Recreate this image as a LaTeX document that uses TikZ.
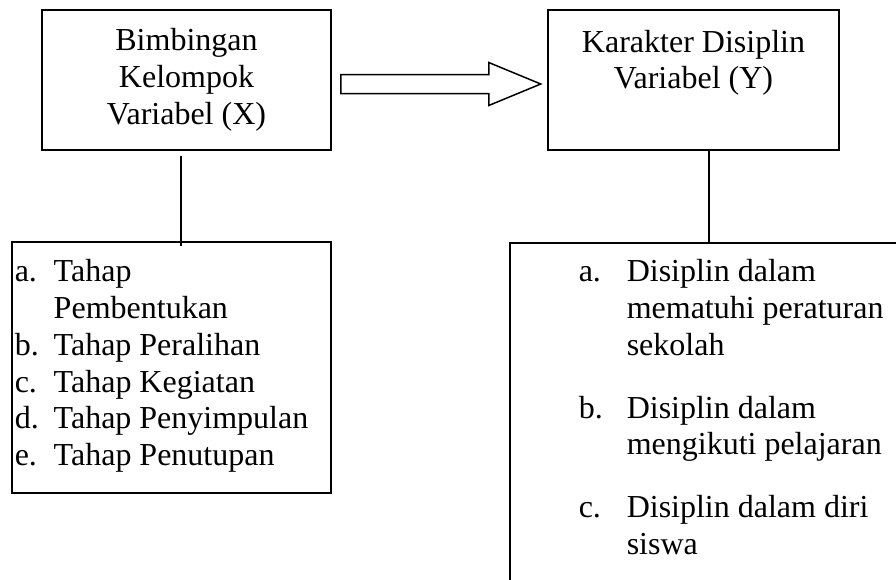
\documentclass[tikz,border=0pt]{standalone}
\usepackage{fontspec}
\setmainfont{Liberation Serif}

\begin{document}
\begin{tikzpicture}[x=1pt,y=-1pt,line width=1.5pt,
  box/.style={draw,inner sep=0pt},
  txt/.style={inner sep=0pt,font=\fontsize{32}{36.7}\selectfont}]
\clip (0,0) rectangle (896,579);
\pgfmathsetmacro{\lblx}{39}
\pgfmathsetmacro{\lbly}{48}
% variable boxes
\node[box,minimum width=289pt,minimum height=140pt] (x) at (186.5,80) {};
\node[box,minimum width=291pt,minimum height=140pt] (y) at (693.5,80) {};
\node[txt,align=center] (xtext) at (x.center) {Bimbingan\\Kelompok\\Variabel (X)};
\node[txt,align=center,anchor=north] (ytext) at ([yshift=-20pt]y.north) {Karakter Disiplin\\Variabel (Y)};
% indicator boxes
\node[box,minimum width=319pt,minimum height=251pt] (tahap) at (171.5,367.5) {};
\node[box,minimum width=420pt,minimum height=360pt,anchor=north west] (disiplin) at (509,242) {};
\node[txt,align=left,anchor=north west] (tahaplist) at (14,259) {%
\makebox[\lblx pt][l]{a.}Tahap\\
\hspace*{\lblx pt}Pembentukan\\
\makebox[\lblx pt][l]{b.}Tahap Peralihan\\
\makebox[\lblx pt][l]{c.}Tahap Kegiatan\\
\makebox[\lblx pt][l]{d.}Tahap Penyimpulan\\
\makebox[\lblx pt][l]{e.}Tahap Penutupan};
\node[txt,align=left,anchor=north west] (disiplinlist) at (578,259) {%
\makebox[\lbly pt][l]{a.}Disiplin dalam\\
\hspace*{\lbly pt}mematuhi peraturan\\
\hspace*{\lbly pt}sekolah\\[26pt]
\makebox[\lbly pt][l]{b.}Disiplin dalam\\
\hspace*{\lbly pt}mengikuti pelajaran\\[26pt]
\makebox[\lbly pt][l]{c.}Disiplin dalam diri\\
\hspace*{\lbly pt}siswa};
% connectors
\draw ([shift={(-5.5,5)}]x.south) -- ([shift={(-5.5,5)}]x.south |- tahap.north);
\draw ([xshift=15.5pt]y.south) -- ([xshift=15.5pt]y.south |- disiplin.north);
\draw[fill=white] ([shift={(9,-5.5)}]x.east) -- ++(148,0) -- ++(0,-12) -- ++(52,21.5)
  -- ++(-52,21.5) -- ++(0,-12) -- ++(-148,0) -- cycle;
\end{tikzpicture}
\end{document}
